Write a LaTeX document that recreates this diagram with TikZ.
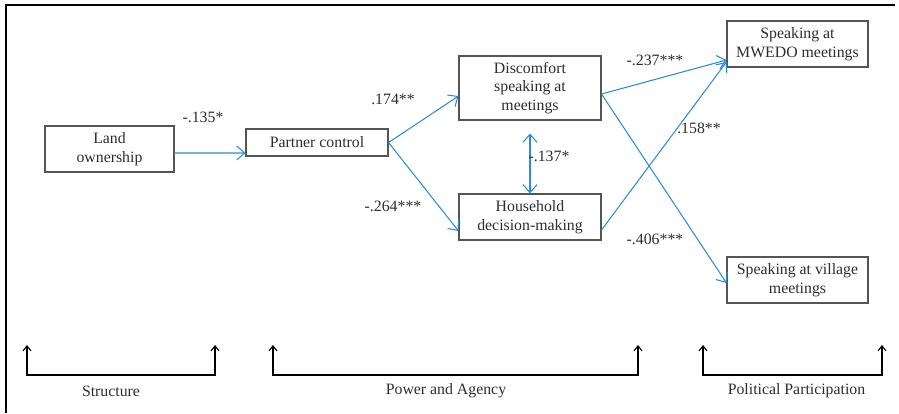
\documentclass[tikz,border=0pt]{standalone}
\usepackage{fontspec}
\setmainfont{Liberation Serif}
\usepackage{xcolor}
\usetikzlibrary{arrows.meta,positioning}
\definecolor{pathblue}{RGB}{46,140,210}
\definecolor{boxgray}{RGB}{85,85,85}
\definecolor{textgray}{RGB}{45,45,45}
\tikzset{>={Straight Barb[length=1.6mm,width=2.8mm]}}
\tikzset{
	var/.style={draw=boxgray,line width=0.6pt,text=textgray,align=center,inner sep=0pt,font=\rmfamily\fontsize{9pt}{10.6pt}\selectfont},
	coef/.style={text=textgray,inner sep=0pt,font=\rmfamily\fontsize{9pt}{10.6pt}\selectfont},
	link/.style={->,draw=pathblue,line width=0.6pt},
	stage/.style={{Straight Barb[length=1mm,width=1.6mm]}-{Straight Barb[length=1mm,width=1.6mm]},draw=black,line width=0.6pt}
}

\begin{document}
\begin{tikzpicture}[x=0.02cm,y=-0.02cm]
		\useasboundingbox (0,0) rectangle (899,413);
		\draw[line width=0.7pt] (6,413) -- (6,5) -- (895,5);
		\node[var,minimum width=2.58cm,minimum height=0.92cm] (land) at (109.5,149) {Land\\ownership};
		\node[var,minimum width=2.84cm,minimum height=0.54cm] (pc) at (317,142.5) {Partner control};
		\node[var,minimum width=2.84cm,minimum height=1.28cm] (disc) at (530,88) {Discomfort\\speaking at\\meetings};
		\node[var,minimum width=2.84cm,minimum height=0.92cm] (hh) at (530,217) {Household\\decision-making};
		\node[var,minimum width=2.82cm,minimum height=0.92cm] (mwedo) at (797.5,44) {Speaking at\\MWEDO meetings};
		\node[var,minimum width=2.82cm,minimum height=0.92cm] (village) at (797.5,280) {Speaking at village\\meetings};
		\draw[link] (land.east) ++(0,4) -- ([shift={(0,10.5)}]pc.west);
		\draw[link] (pc.east) -- ([shift={(0,8)}]disc.west);
		\draw[link] (pc.east) -- ([shift={(0,14)}]hh.west);
		\draw[link,<->] ([shift={(0,13)}]disc.south) -- (hh.north);
		\draw[link] ([shift={(0,6)}]disc.east) -- ([shift={(0,16)}]mwedo.west);
		\draw[link] ([shift={(0,6)}]disc.east) -- ([shift={(0,3)}]village.west);
		\draw[link] ([shift={(0,13)}]hh.east) -- ([shift={(0,18)}]mwedo.west);
		\node[coef] (c1) at (203,117) {-.135*};
		\node[coef] (c2) at (393,99) {.174**};
		\node[coef] (c3) at (393,206) {-.264***};
		\node[coef] (c4) at (549,156) {-.137*};
		\node[coef] (c5) at (655,60) {-.237***};
		\node[coef] (c6) at (699,128) {.158**};
		\node[coef] (c7) at (655,239) {-.406***};
		\coordinate (structL) at (27,345);
		\coordinate (structR) at (215,345);
		\coordinate (powerL) at (273,345);
		\coordinate (powerR) at (638,345);
		\coordinate (politL) at (703,345);
		\coordinate (politR) at (882,345);
		\draw[stage] (structL) -- ++(0,30) -| (structR);
		\draw[stage] (powerL) -- ++(0,30) -| (powerR);
		\draw[stage] (politL) -- ++(0,30) -| (politR);
		\node[coef] (struct) at (111,391) {Structure};
		\node[coef] (power) at (446,391) {Power and Agency};
		\node[coef] (polit) at (796.5,391) {Political Participation};
	\end{tikzpicture}
\end{document}
